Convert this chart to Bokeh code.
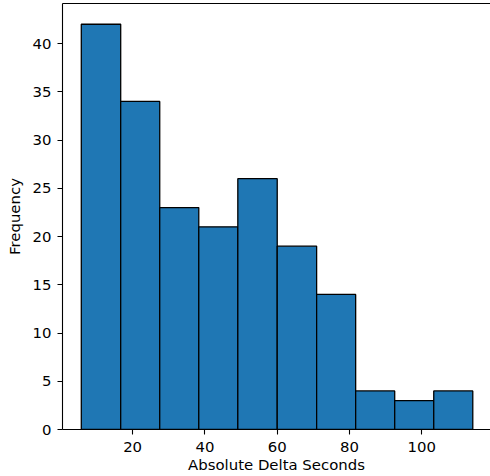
from bokeh.plotting import figure
from bokeh.models import Range1d, FixedTicker, LinearAxis, ColumnDataSource
from bokeh.embed import file_html
from bokeh.resources import INLINE

# Histogram data
bin_edges = [5.8, 16.7, 27.5, 38.3, 49.1, 60.0, 70.9, 81.7, 92.5, 103.3, 114.1]
counts = [42, 34, 23, 21, 26, 19, 14, 4, 3, 4]
x_ticks = [20, 40, 60, 80, 100]
y_ticks = [0, 5, 10, 15, 20, 25, 30, 35, 40]
x_label = "Absolute Delta Seconds"
y_label = "Frequency"

src = ColumnDataSource(dict(left=bin_edges[:-1], right=bin_edges[1:],
                            top=counts, bottom=[0] * len(counts)))

FONT = "DejaVu Sans"
FS = "14.9px"

p = figure(width=490, height=476, output_backend="svg", toolbar_location=None,
           x_range=Range1d(0.6, 119.0), y_range=Range1d(0, 44.15),
           min_border_left=62, min_border_right=0, min_border_top=3,
           min_border_bottom=46)
p.background_fill_color = "white"
p.border_fill_color = "white"
p.outline_line_color = None
p.xgrid.visible = False
p.ygrid.visible = False

p.quad(left="left", right="right", top="top", bottom="bottom", source=src,
       fill_color="#1f77b4", line_color="black", line_width=1.3)

for ax in (p.xaxis[0], p.yaxis[0]):
    ax.axis_line_color = "black"
    ax.axis_line_width = 1.1
    ax.major_tick_line_color = "black"
    ax.major_tick_line_width = 1.1
    ax.major_tick_out = 5
    ax.major_tick_in = 0
    ax.minor_tick_line_color = None
    ax.major_label_text_font = FONT
    ax.major_label_text_font_size = FS
    ax.major_label_text_color = "black"
    ax.axis_label_text_font = FONT
    ax.axis_label_text_font_size = FS
    ax.axis_label_text_font_style = "normal"
    ax.axis_label_text_color = "black"
    ax.major_label_standoff = 6
    ax.axis_label_standoff = 6

p.xaxis.ticker = FixedTicker(ticks=x_ticks)
p.yaxis.ticker = FixedTicker(ticks=y_ticks)
p.xaxis.axis_label = x_label
p.yaxis.axis_label = y_label
p.xaxis.major_label_standoff = 7
p.xaxis.axis_label_standoff = 1

top_axis = LinearAxis(ticker=FixedTicker(ticks=[]), axis_line_color="black",
                      axis_line_width=1.1, major_tick_line_color=None,
                      minor_tick_line_color=None, major_label_text_font_size="0px",
                      major_tick_out=0, major_label_standoff=0)
p.add_layout(top_axis, "above")

open("out.html", "w").write(file_html(p, INLINE))
